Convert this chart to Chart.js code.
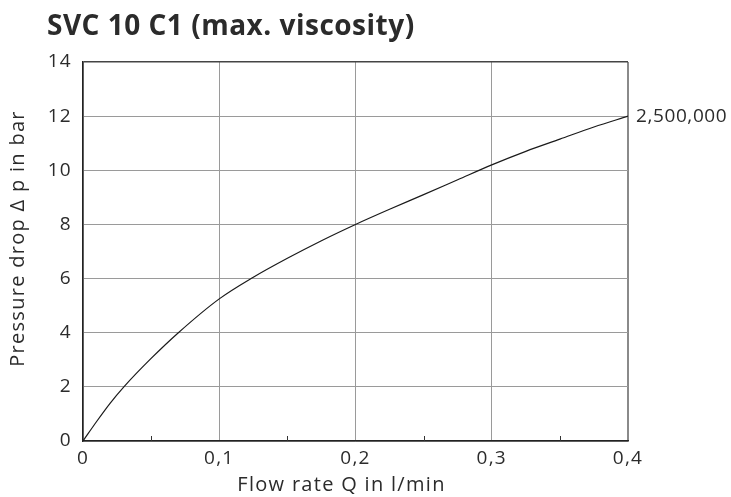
<!DOCTYPE html>
<html>
<head>
<meta charset="utf-8">
<script src="https://cdn.jsdelivr.net/npm/chart.js@4"></script>
<style>
  html, body { margin: 0; padding: 0; background: #fff; }
  #wrap { width: 731px; height: 497px; position: relative; }
</style>
</head>
<body>
<div id="wrap"><canvas id="pressureChart" width="731" height="497"></canvas></div>
<script>
const chartTitle = "SVC 10 C1 (max. viscosity)";
const xTitle = "Flow rate Q in l/min";
const yTitle = "Pressure drop \u0394 p in bar";

// flow rate (l/min) and pressure drop (bar)
const flowRate = [0, 0.01, 0.02, 0.03, 0.05, 0.07, 0.1, 0.125, 0.15, 0.175, 0.2, 0.225, 0.25, 0.275, 0.3, 0.325, 0.35, 0.375, 0.4];
const pressureDrop = [0, 0.72, 1.4, 2.0, 3.05, 4.0, 5.25, 6.05, 6.75, 7.4, 8.0, 8.56, 9.1, 9.65, 10.2, 10.7, 11.15, 11.6, 12.0];

const curveLabel = "2,500,000";
const xMinorTicks = [0.05, 0.15, 0.25, 0.35];

const textColor = "#2b2b2b";
const fontFamily = "'Open Sans', Lato, sans-serif";

function formatFlow(value) {
  if (value === 0) return "0";
  return value.toFixed(1).replace(".", ",");
}

// the reference type is set quite loose, so widen the letters a bit
const spacingPlugin = {
  id: "spacing",
  beforeDraw(chart) {
    chart.ctx.letterSpacing = "1.3px";
  }
};

// chart title, axis titles (sit a little off centre in the original), end label, minor ticks
const extrasPlugin = {
  id: "extras",
  afterDraw(chart) {
    const ctx = chart.ctx;
    const xs = chart.scales.x;
    const ys = chart.scales.y;
    const area = chart.chartArea;
    ctx.save();

    ctx.fillStyle = textColor;
    ctx.letterSpacing = "0.5px";
    ctx.font = "bold 28px " + fontFamily;
    ctx.textBaseline = "alphabetic";
    ctx.textAlign = "left";
    ctx.fillText(chartTitle, 47, 35);

    ctx.letterSpacing = "1.3px";
    ctx.font = "20px " + fontFamily;
    ctx.textAlign = "center";
    ctx.fillText(xTitle, (area.left + area.right) / 2 - 14, 491);

    ctx.save();
    ctx.translate(24, (area.top + area.bottom) / 2 - 13);
    ctx.rotate(-Math.PI / 2);
    ctx.fillText(yTitle, 0, 0);
    ctx.restore();

    ctx.strokeStyle = "#333";
    ctx.lineWidth = 1;
    ctx.beginPath();
    xMinorTicks.forEach(v => {
      const px = Math.round(xs.getPixelForValue(v)) + 0.5;
      ctx.moveTo(px, area.bottom);
      ctx.lineTo(px, area.bottom - 5);
    });
    ctx.stroke();

    ctx.letterSpacing = "0.6px";
    ctx.font = "19px " + fontFamily;
    ctx.textAlign = "left";
    ctx.textBaseline = "middle";
    const last = flowRate.length - 1;
    ctx.fillText(curveLabel, xs.getPixelForValue(flowRate[last]) + 8, ys.getPixelForValue(pressureDrop[last]));
    ctx.restore();
  }
};

const ctx = document.getElementById("pressureChart").getContext("2d");
new Chart(ctx, {
  type: "line",
  data: {
    datasets: [{
      data: flowRate.map((x, i) => ({ x: x, y: pressureDrop[i] })),
      borderColor: "#1a1a1a",
      borderWidth: 1.2,
      pointRadius: 0,
      fill: false,
      cubicInterpolationMode: "monotone"
    }]
  },
  options: {
    responsive: false,
    animation: false,
    layout: { padding: { top: 62, right: 103, left: 0, bottom: 0 } },
    plugins: {
      legend: { display: false },
      tooltip: { enabled: false }
    },
    scales: {
      x: {
        type: "linear",
        min: 0,
        max: 0.4,
        ticks: {
          stepSize: 0.1,
          color: textColor,
          font: { family: fontFamily, size: 19 },
          padding: 6,
          callback: v => formatFlow(v)
        },
        grid: {
          color: c => (c.tick && c.tick.value >= 0.4 ? "#8a8a8a" : "#9a9a9a"),
          lineWidth: c => (c.tick && c.tick.value >= 0.4 ? 2 : 1),
          drawTicks: false
        },
        border: { color: "#222", width: 1.5 },
        afterFit: scale => { scale.height = 56; }
      },
      y: {
        min: 0,
        max: 14,
        ticks: {
          stepSize: 2,
          color: textColor,
          font: { family: fontFamily, size: 19 },
          padding: 11
        },
        grid: {
          color: c => (c.tick && c.tick.value === 14 ? "#444" : "#9a9a9a"),
          lineWidth: c => (c.tick && c.tick.value === 14 ? 1.5 : 1),
          drawTicks: false
        },
        border: { color: "#222", width: 1.5 },
        afterFit: scale => { scale.width = 83; }
      }
    }
  },
  plugins: [spacingPlugin, extrasPlugin]
});
</script>
</body>
</html>
